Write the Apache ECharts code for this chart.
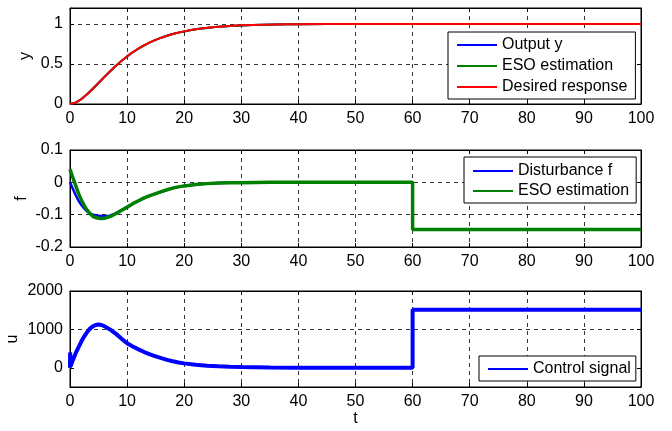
<!DOCTYPE html>
<html>
<head>
<meta charset="utf-8">
<script src="https://cdn.jsdelivr.net/npm/echarts@6/dist/echarts.min.js"></script>
<style>
  html, body { margin: 0; padding: 0; background: #fff; }
  #chart { width: 672px; height: 431px; }
</style>
</head>
<body>
<div id="chart"></div>
<script>
// Panel 1: output y, ESO estimate and desired response
const tY   = [0, 1, 2, 3, 4, 5, 6, 7, 8, 9, 10, 11, 12, 13, 14, 15, 16, 17, 18, 19, 20, 21, 22, 23, 24, 25, 26, 27, 28, 29, 30, 32, 34, 36, 38, 40, 45, 50, 60, 70, 80, 90, 100];
const yRef = [0, 0.018, 0.062, 0.122, 0.191, 0.264, 0.337, 0.408, 0.475, 0.537, 0.596, 0.648, 0.694, 0.735, 0.771, 0.802, 0.83, 0.854, 0.875, 0.893, 0.908, 0.922, 0.934, 0.944, 0.952, 0.96, 0.966, 0.971, 0.976, 0.98, 0.983, 0.988, 0.992, 0.994, 0.996, 0.997, 0.999, 1, 1, 1, 1, 1, 1];
const yOut = [0, 0.017, 0.061, 0.121, 0.19, 0.263, 0.336, 0.407, 0.474, 0.536, 0.595, 0.647, 0.693, 0.734, 0.77, 0.801, 0.829, 0.853, 0.874, 0.892, 0.907, 0.921, 0.933, 0.943, 0.951, 0.959, 0.965, 0.97, 0.975, 0.979, 0.982, 0.987, 0.991, 0.994, 0.996, 0.997, 0.999, 1, 1, 1, 1, 1, 1];

// Panel 2: disturbance f and its ESO estimate
const tF    = [0, 0.5, 1, 1.5, 2, 2.5, 3, 3.5, 4, 4.5, 5, 5.5, 6, 7, 8, 9, 10, 11, 12, 13, 14, 15, 16, 17, 18, 19, 20, 22, 24, 26, 28, 30, 35, 40, 50, 60, 60, 70, 80, 90, 100];
const fDist = [0, -0.02, -0.04, -0.057, -0.07, -0.081, -0.09, -0.096, -0.1, -0.102, -0.103, -0.104, -0.105, -0.103, -0.096, -0.086, -0.076, -0.066, -0.057, -0.048, -0.041, -0.035, -0.029, -0.023, -0.018, -0.014, -0.011, -0.007, -0.004, -0.002, -0.001, -0.001, 0, 0, 0, 0, -0.145, -0.145, -0.145, -0.145, -0.145];
const fEso  = [0.04, 0.015, -0.01, -0.035, -0.055, -0.072, -0.086, -0.097, -0.105, -0.109, -0.111, -0.112, -0.111, -0.106, -0.097, -0.087, -0.077, -0.066, -0.057, -0.048, -0.041, -0.035, -0.029, -0.023, -0.018, -0.014, -0.011, -0.007, -0.004, -0.002, -0.001, -0.001, 0, 0, 0, 0, -0.146, -0.146, -0.146, -0.146, -0.146];

// Panel 3: control signal u
const tU   = [0, 0.02, 0.1, 0.5, 1, 1.5, 2, 2.5, 3, 3.5, 4, 4.5, 5, 5.5, 6, 7, 8, 9, 10, 11, 12, 13, 14, 15, 16, 17, 18, 19, 20, 22, 24, 26, 28, 30, 35, 40, 50, 60, 60, 70, 80, 90, 100];
const uSig = [0, 400, 40, 200, 380, 540, 690, 820, 930, 1020, 1080, 1115, 1125, 1115, 1085, 1000, 890, 760, 640, 555, 480, 410, 350, 300, 250, 205, 170, 140, 115, 80, 55, 40, 28, 20, 8, 0, 0, 0, 1510, 1510, 1510, 1510, 1510];

// Labelled ticks on the u axis
const uTicks = [0, 1000, 2000];

const pair = (t, v) => t.map((x, i) => [x, v[i]]);

const FONT = 'Liberation Sans, Arial, Helvetica, sans-serif';
const FS = 16;
const BLUE = '#0000ff', GREEN = '#008000', RED = '#ff0000';
const dash = { color: '#333', type: [4, 4], width: 1 };

const grids = [
  { left: 70, right: 31, top: 8,   height: 96 },
  { left: 70, right: 31, top: 150, height: 97 },
  { left: 70, right: 31, top: 291, height: 96 }
].map(g => Object.assign(g, {
  show: true, borderColor: '#000', borderWidth: 1, backgroundColor: '#fff',
  containLabel: false, outerBoundsMode: 'none'
}));

function xAxes(gi, withName) {
  return [{
    type: 'value', gridIndex: gi, min: 0, max: 100, interval: 10,
    axisLine: { show: true, onZero: false, lineStyle: { color: '#000' } },
    axisTick: { show: true, inside: true, length: 4, lineStyle: { color: '#000' } },
    axisLabel: { color: '#000', fontSize: FS, fontFamily: FONT, margin: 7 },
    splitLine: { show: true, lineStyle: dash },
    name: withName ? 't' : '', nameLocation: 'middle', nameGap: 24, nameMoveOverlap: false,
    nameTextStyle: { color: '#000', fontSize: FS, fontFamily: FONT }
  }, {
    type: 'value', gridIndex: gi, min: 0, max: 100, interval: 10, position: 'top',
    axisLine: { show: true, onZero: false, lineStyle: { color: '#000' } },
    axisTick: { show: true, inside: true, length: 4, lineStyle: { color: '#000' } },
    axisLabel: { show: false }, splitLine: { show: false }
  }];
}

function yAxes(gi, name, min, max, interval, nameGap, extra) {
  const left = {
    type: 'value', gridIndex: gi, min, max, interval,
    axisLine: { show: true, onZero: false, lineStyle: { color: '#000' } },
    axisTick: { show: true, inside: true, length: 4, lineStyle: { color: '#000' } },
    axisLabel: { color: '#000', fontSize: FS, fontFamily: FONT, margin: 7, formatter: v => String(+v.toFixed(3)) },
    splitLine: { show: true, lineStyle: dash },
    name, nameLocation: 'middle', nameGap, nameRotate: 90, nameMoveOverlap: false,
    nameTextStyle: { color: '#000', fontSize: FS, fontFamily: FONT }
  };
  const right = {
    type: 'value', gridIndex: gi, min, max, interval, position: 'right',
    axisLine: { show: true, onZero: false, lineStyle: { color: '#000' } },
    axisTick: { show: true, inside: true, length: 4, lineStyle: { color: '#000' } },
    axisLabel: { show: false }, splitLine: { show: false }
  };
  if (extra) { extra(left); extra(right); }
  return [left, right];
}

// y panel: the top edge at 1.2 carries no label
const yAxisTweak = ax => {
  ax.axisLabel.showMaxLabel = false;
  ax.axisTick.customValues = [0, 0.5, 1];
};

// u panel: grid lines every 1000 only; 500 steps keep min on the interval
const uAxisTweak = ax => {
  ax.axisTick.customValues = uTicks;
  if (ax.axisLabel.show !== false) ax.axisLabel.customValues = uTicks;
  if (ax.splitLine.show) ax.splitLine.lineStyle = Object.assign({}, dash, { color: ['rgba(0,0,0,0)', '#333'] });
};

const legendBase = {
  orient: 'vertical', icon: 'rect', itemWidth: 40, itemHeight: 2,
  backgroundColor: '#fff', borderColor: '#000', borderWidth: 1, borderRadius: 0,
  textStyle: { color: '#000', fontSize: FS, fontFamily: FONT },
  selectedMode: false
};

const line = (name, data, xi, yi, color, width, z) => ({
  name, type: 'line', data, xAxisIndex: xi, yAxisIndex: yi,
  showSymbol: false, symbol: 'none', z,
  lineStyle: { color, width }, itemStyle: { color }
});

const option = {
  animation: false,
  backgroundColor: '#fff',
  grid: grids,
  xAxis: [...xAxes(0, false), ...xAxes(1, false), ...xAxes(2, true)],
  yAxis: [
    ...yAxes(0, 'y', 0, 1.2, 0.5, 36, yAxisTweak),
    ...yAxes(1, 'f', -0.2, 0.1, 0.1, 40),
    ...yAxes(2, 'u', -500, 2000, 500, 49, uAxisTweak)
  ],
  legend: [
    Object.assign({}, legendBase, { left: 448, top: 32, padding: [5, 8, 4, 9], itemGap: 5,
      data: ['Output y', 'ESO estimation', 'Desired response'] }),
    Object.assign({}, legendBase, { left: 464, top: 157, padding: [6, 7, 4, 9], itemGap: 4,
      data: ['Disturbance f', 'ESO estimation'] }),
    Object.assign({}, legendBase, { left: 479, top: 356, padding: [5, 5, 4, 9],
      data: ['Control signal'] })
  ],
  series: [
    line('Output y', pair(tY, yOut), 0, 0, BLUE, 2, 2),
    line('ESO estimation', pair(tY, yOut), 0, 0, GREEN, 2, 3),
    line('Desired response', pair(tY, yRef), 0, 0, RED, 2, 4),
    line('Disturbance f', pair(tF, fDist), 2, 2, BLUE, 2.5, 2),
    line('ESO estimation', pair(tF, fEso), 2, 2, GREEN, 3.5, 3),
    line('Control signal', pair(tU, uSig), 4, 4, BLUE, 4, 2)
  ]
};

echarts.init(document.getElementById('chart'), null, { renderer: 'canvas' }).setOption(option);
</script>
</body>
</html>
